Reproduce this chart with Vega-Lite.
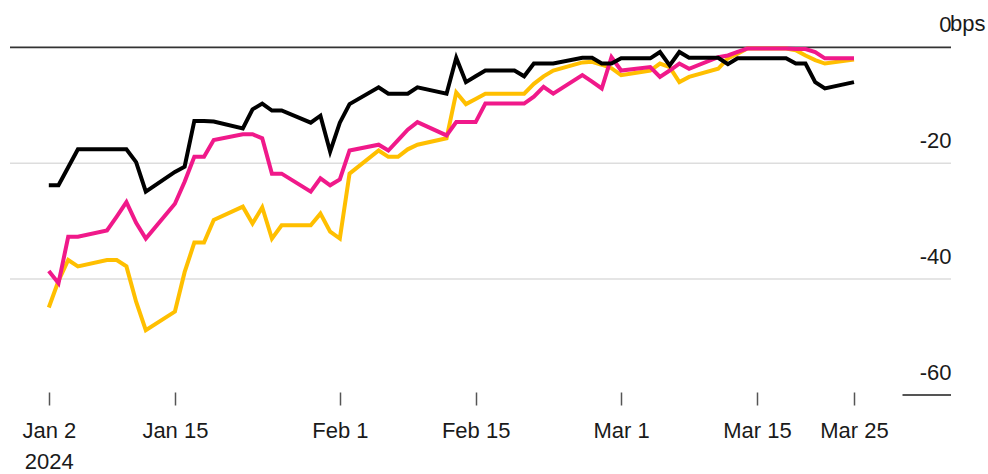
{
  "$schema": "https://vega.github.io/schema/vega-lite/v6.json",
  "autosize": {"type": "none"},
  "width": 941,
  "height": 394,
  "padding": {"left": 10, "top": 1, "right": 37, "bottom": 79},
  "background": "#ffffff",
  "config": {
    "view": {"stroke": null},
    "font": "Liberation Sans",
    "axis": {"labelFont": "Liberation Sans", "labelColor": "#1a1a1a", "labelFontSize": 22}
  },
  "datasets": {
    "spreads": [
      {"date": "2024-01-02", "black": -23.8, "pink": -38.6, "gold": -44.9},
      {"date": "2024-01-03", "black": -23.8, "pink": -40.7, "gold": -40.3},
      {"date": "2024-01-04", "black": -20.7, "pink": -32.7, "gold": -36.7},
      {"date": "2024-01-05", "black": -17.6, "pink": -32.7, "gold": -37.8},
      {"date": "2024-01-08", "black": -17.6, "pink": -31.6, "gold": -36.7},
      {"date": "2024-01-09", "black": -17.6, "pink": -29.2, "gold": -36.7},
      {"date": "2024-01-10", "black": -17.6, "pink": -26.7, "gold": -37.8},
      {"date": "2024-01-11", "black": -19.8, "pink": -30.3, "gold": -43.9},
      {"date": "2024-01-12", "black": -24.9, "pink": -33.0, "gold": -48.8},
      {"date": "2024-01-15", "black": -21.5, "pink": -27.0, "gold": -45.6},
      {"date": "2024-01-16", "black": -20.6, "pink": -23.2, "gold": -38.8},
      {"date": "2024-01-17", "black": -12.7, "pink": -18.9, "gold": -33.7},
      {"date": "2024-01-18", "black": -12.7, "pink": -18.9, "gold": -33.7},
      {"date": "2024-01-19", "black": -12.8, "pink": -16.0, "gold": -29.8},
      {"date": "2024-01-22", "black": -14.0, "pink": -15.0, "gold": -27.5},
      {"date": "2024-01-23", "black": -10.7, "pink": -15.0, "gold": -30.4},
      {"date": "2024-01-24", "black": -9.7, "pink": -15.7, "gold": -27.6},
      {"date": "2024-01-25", "black": -10.9, "pink": -21.8, "gold": -33.0},
      {"date": "2024-01-26", "black": -10.9, "pink": -21.8, "gold": -30.7},
      {"date": "2024-01-29", "black": -13.0, "pink": -24.9, "gold": -30.7},
      {"date": "2024-01-30", "black": -11.8, "pink": -22.6, "gold": -28.7},
      {"date": "2024-01-31", "black": -18.0, "pink": -23.8, "gold": -31.8},
      {"date": "2024-02-01", "black": -13.0, "pink": -22.8, "gold": -33.0},
      {"date": "2024-02-02", "black": -9.8, "pink": -17.8, "gold": -21.8},
      {"date": "2024-02-05", "black": -6.9, "pink": -16.8, "gold": -17.8},
      {"date": "2024-02-06", "black": -8.0, "pink": -17.8, "gold": -18.9},
      {"date": "2024-02-07", "black": -8.0, "pink": -16.0, "gold": -18.9},
      {"date": "2024-02-08", "black": -8.0, "pink": -14.2, "gold": -17.6},
      {"date": "2024-02-09", "black": -6.9, "pink": -12.9, "gold": -16.8},
      {"date": "2024-02-12", "black": -8.0, "pink": -15.2, "gold": -15.7},
      {"date": "2024-02-13", "black": -1.8, "pink": -12.9, "gold": -7.8},
      {"date": "2024-02-14", "black": -6.0, "pink": -12.9, "gold": -9.8},
      {"date": "2024-02-15", "black": -5.0, "pink": -12.9, "gold": -8.9},
      {"date": "2024-02-16", "black": -4.0, "pink": -9.7, "gold": -8.0},
      {"date": "2024-02-19", "black": -4.0, "pink": -9.7, "gold": -8.0},
      {"date": "2024-02-20", "black": -5.0, "pink": -9.7, "gold": -8.0},
      {"date": "2024-02-21", "black": -2.8, "pink": -8.5, "gold": -6.3},
      {"date": "2024-02-22", "black": -2.8, "pink": -6.8, "gold": -5.0},
      {"date": "2024-02-23", "black": -2.8, "pink": -8.0, "gold": -4.0},
      {"date": "2024-02-26", "black": -1.8, "pink": -4.8, "gold": -2.6},
      {"date": "2024-02-27", "black": -1.8, "pink": -5.9, "gold": -2.5},
      {"date": "2024-02-28", "black": -2.8, "pink": -7.1, "gold": -3.0},
      {"date": "2024-02-29", "black": -2.8, "pink": -1.7, "gold": -3.6},
      {"date": "2024-03-01", "black": -1.9, "pink": -4.0, "gold": -4.8},
      {"date": "2024-03-04", "black": -1.9, "pink": -3.4, "gold": -4.0},
      {"date": "2024-03-05", "black": -0.8, "pink": -5.1, "gold": -2.8},
      {"date": "2024-03-06", "black": -3.1, "pink": -4.0, "gold": -3.4},
      {"date": "2024-03-07", "black": -0.8, "pink": -2.8, "gold": -6.0},
      {"date": "2024-03-08", "black": -1.8, "pink": -3.7, "gold": -5.1},
      {"date": "2024-03-11", "black": -1.8, "pink": -1.7, "gold": -3.7},
      {"date": "2024-03-12", "black": -2.9, "pink": -1.4, "gold": -1.9},
      {"date": "2024-03-13", "black": -1.9, "pink": -0.8, "gold": -1.1},
      {"date": "2024-03-14", "black": -1.9, "pink": -0.2, "gold": -0.2},
      {"date": "2024-03-15", "black": -1.9, "pink": -0.2, "gold": -0.2},
      {"date": "2024-03-18", "black": -1.9, "pink": -0.2, "gold": -0.2},
      {"date": "2024-03-19", "black": -2.8, "pink": -0.3, "gold": -0.5},
      {"date": "2024-03-20", "black": -2.8, "pink": -0.3, "gold": -1.4},
      {"date": "2024-03-21", "black": -6.0, "pink": -0.8, "gold": -2.2},
      {"date": "2024-03-22", "black": -7.1, "pink": -1.9, "gold": -2.8},
      {"date": "2024-03-25", "black": -6.0, "pink": -1.9, "gold": -2.1}
    ],
    "gridlines": [{"v": -20}, {"v": -40}],
    "single": [{}]
  },
  "layer": [
    {
      "data": {"name": "gridlines"},
      "mark": {"type": "rule", "color": "#dddddd", "strokeWidth": 1.5},
      "encoding": {
        "y": {"field": "v", "type": "quantitative", "title": null, "scale": {"domain": [-60, 8], "nice": false, "zero": false}}
      }
    },
    {
      "data": {"name": "single"},
      "mark": {"type": "rule", "color": "#333333", "strokeWidth": 1.6},
      "encoding": {
        "y": {"datum": 0, "type": "quantitative", "title": null}
      }
    },
    {
      "data": {"name": "single"},
      "mark": {"type": "rule", "color": "#555555", "strokeWidth": 2},
      "encoding": {
        "x": {"datum": {"year": 2024, "month": 3, "date": 30, "utc": true}, "type": "temporal", "title": null},
        "x2": {"datum": {"year": 2024, "month": 4, "date": 4, "utc": true}},
        "y": {"datum": -60, "type": "quantitative", "title": null}
      }
    },
    {
      "data": {"name": "spreads"},
      "mark": {"type": "line", "color": "#ffbf00", "strokeWidth": 4},
      "encoding": {
        "x": {
          "field": "date", "type": "temporal", "title": null,
          "scale": {"type": "utc", "domain": [{"year": 2023, "month": 12, "date": 29, "utc": true}, {"year": 2024, "month": 4, "date": 4, "utc": true}]},
          "axis": {
            "title": null, "domain": false, "grid": false,
            "values": [
              {"year": 2024, "month": 1, "date": 2, "utc": true},
              {"year": 2024, "month": 1, "date": 15, "utc": true},
              {"year": 2024, "month": 2, "date": 1, "utc": true},
              {"year": 2024, "month": 2, "date": 15, "utc": true},
              {"year": 2024, "month": 3, "date": 1, "utc": true},
              {"year": 2024, "month": 3, "date": 15, "utc": true},
              {"year": 2024, "month": 3, "date": 25, "utc": true}
            ],
            "labelExpr": "datum.index === 0 ? ['Jan 2', '2024'] : utcFormat(datum.value, '%b %-d')",
            "offset": -3, "tickSize": 13, "tickColor": "#555555", "tickWidth": 1.5,
            "labelPadding": 15, "labelBaseline": "top", "labelLineHeight": 31,
            "labelAlign": "center", "labelFlush": false, "labelOverlap": false
          }
        },
        "y": {
          "field": "gold", "type": "quantitative", "title": null,
          "scale": {"domain": [-60, 8], "nice": false, "zero": false},
          "axis": {
            "orient": "right", "title": null, "domain": false, "grid": false, "ticks": false, "tickSize": 0,
            "values": [0, -20, -40, -60],
            "labelExpr": "datum.value === 0 ? '0' : '-' + abs(datum.value)",
            "labelAlign": "right", "labelBaseline": "alphabetic", "labelPadding": 0, "labelOffset": -16
          }
        }
      }
    },
    {
      "data": {"name": "spreads"},
      "mark": {"type": "line", "color": "#f0198a", "strokeWidth": 4},
      "encoding": {
        "x": {"field": "date", "type": "temporal", "title": null},
        "y": {"field": "pink", "type": "quantitative", "title": null}
      }
    },
    {
      "data": {"name": "spreads"},
      "mark": {"type": "line", "color": "#000000", "strokeWidth": 4},
      "encoding": {
        "x": {"field": "date", "type": "temporal", "title": null},
        "y": {"field": "black", "type": "quantitative", "title": null}
      }
    },
    {
      "data": {"name": "single"},
      "mark": {"type": "text", "text": "bps", "align": "left", "baseline": "alphabetic", "dy": -16, "dx": -1, "fontSize": 22, "font": "Liberation Sans", "color": "#1a1a1a"},
      "encoding": {
        "x": {"datum": {"year": 2024, "month": 4, "date": 4, "utc": true}, "type": "temporal", "title": null},
        "y": {"datum": 0, "type": "quantitative", "title": null}
      }
    }
  ]
}
